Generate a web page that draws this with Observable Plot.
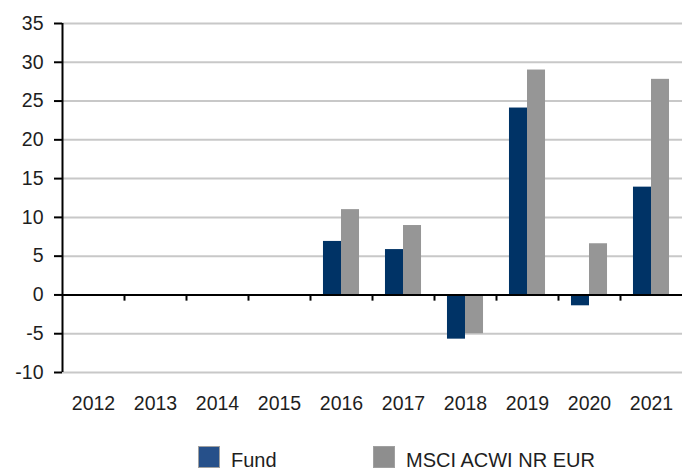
<!DOCTYPE html>
<html>
<head>
<meta charset="utf-8">
<script src="https://cdn.jsdelivr.net/npm/d3@7"></script>
<script src="https://cdn.jsdelivr.net/npm/@observablehq/plot@0.6"></script>
<style>
  html, body { margin: 0; padding: 0; background: #ffffff; }
  #wrap { width: 691px; height: 471px; position: relative; overflow: hidden; }
  #legend { position: relative; width: 691px; height: 49px; font-family: "Liberation Sans", Arial, sans-serif; font-size: 20px; color: #1e1e1e; }
  .item { position: absolute; top: 24px; display: flex; align-items: flex-start; }
  .sw { width: 22px; height: 22px; box-sizing: border-box; border: 1px solid #a0a0a0; }
  .lab { margin-left: 11px; line-height: 22px; padding-top: 3px; white-space: nowrap; }
</style>
</head>
<body>
<div id="wrap"><div id="chart"></div><div id="legend"></div></div>
<script>
// ---- data ----
const years = [2012, 2013, 2014, 2015, 2016, 2017, 2018, 2019, 2020, 2021];
const seriesNames = ["Fund", "MSCI ACWI NR EUR"];
const fundValues = [null, null, null, null, 6.9, 5.85, -5.7, 24.1, -1.4, 13.9];
const msciValues = [null, null, null, null, 11.0, 8.95, -5.0, 29.0, 6.6, 27.8];
const yTickValues = [-10, -5, 0, 5, 10, 15, 20, 25, 30, 35];

const barColors = ["#003366", "#969696"];
const legendColors = ["#26508a", "#8e8e8e"];

const rows = [];
years.forEach((yr, i) => {
  if (fundValues[i] != null) rows.push({year: yr, series: seriesNames[0], value: fundValues[i]});
  if (msciValues[i] != null) rows.push({year: yr, series: seriesNames[1], value: msciValues[i]});
});
const boundaryYears = years.slice(1);
const firstYear = [years[0]];

const FONT = '"Liberation Sans", Arial, sans-serif';
const paddingOuter = 0.72;
const facetWidth = (691 - 62 - 9) / years.length;
const step = facetWidth / (seriesNames.length + 2 * paddingOuter);
// offset from the centre of the first band to the facet's left edge
const edge = -(step * paddingOuter + step / 2);

const chart = Plot.plot({
  width: 691,
  height: 422,
  marginLeft: 62,
  marginRight: 9,
  marginTop: 23,
  marginBottom: 50,
  style: {fontFamily: FONT, fontSize: "19.5px", color: "#1e1e1e", background: "white", overflow: "visible"},
  fx: {domain: years, padding: 0, round: false, label: null},
  x: {domain: seriesNames, paddingInner: 0, paddingOuter: paddingOuter, round: false, axis: null, label: null},
  y: {domain: [-10, 35], label: null},
  color: {domain: seriesNames, range: barColors},
  marks: [
    Plot.gridY({ticks: yTickValues.filter(t => t !== 0), stroke: "#c8c8c8", strokeOpacity: 1, strokeWidth: 2}),
    Plot.barY(rows, {fx: "year", x: "series", y: "value", fill: "series"}),
    Plot.ruleY([0], {stroke: "#000000", strokeWidth: 2}),
    Plot.ruleX(boundaryYears, {fx: d => d, x: () => seriesNames[0], y1: 0, y2: -0.8, dx: edge, stroke: "#000000", strokeWidth: 2}),
    Plot.ruleX(firstYear, {fx: d => d, x: () => seriesNames[0], y1: -10, y2: 35, dx: edge, stroke: "#000000", strokeWidth: 2}),
    Plot.axisY({ticks: yTickValues, tickSize: 8, tickPadding: 11, strokeWidth: 2, stroke: "#000000", label: null, tickFormat: d => String(d)}),
    Plot.axisFx({anchor: "bottom", tickSize: 0, tickPadding: 24, label: null, tickFormat: d => String(d)})
  ]
});
document.getElementById("chart").appendChild(chart);

// ---- legend ----
const legend = document.getElementById("legend");
const lefts = [198, 373];
seriesNames.forEach((name, i) => {
  const item = document.createElement("div");
  item.className = "item";
  item.style.left = lefts[i] + "px";
  const sw = document.createElement("div");
  sw.className = "sw";
  sw.style.background = legendColors[i];
  const lab = document.createElement("div");
  lab.className = "lab";
  lab.textContent = name;
  item.appendChild(sw);
  item.appendChild(lab);
  legend.appendChild(item);
});
</script>
</body>
</html>
